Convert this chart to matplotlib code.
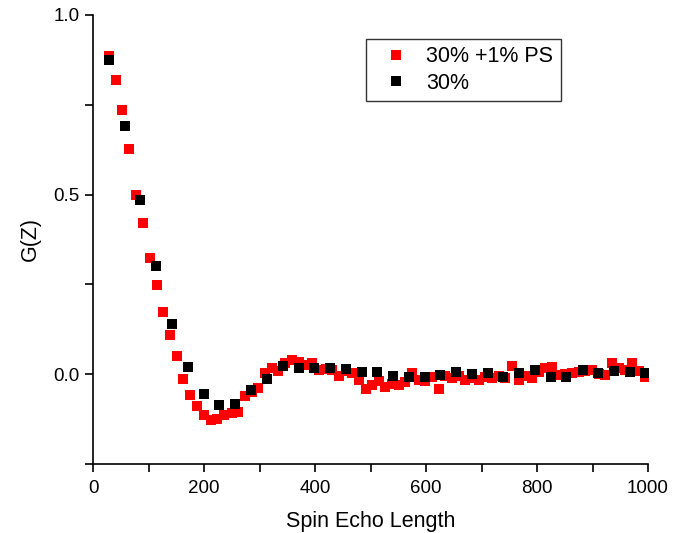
import matplotlib
matplotlib.use("Agg")
import matplotlib.pyplot as plt
from matplotlib.ticker import MultipleLocator

plt.rcParams['font.family'] = ['Liberation Sans', 'DejaVu Sans']

# 30% +1% PS sample
x_ps = [29, 41, 53, 65, 77, 89.5, 102, 114.7, 126.7, 138, 150.7, 163, 175,
        187.9, 200.6, 212.6, 224, 236.6, 249.8, 260.5, 274, 286, 297.8, 310,
        322, 334, 346, 359, 371.8, 383, 395, 407, 419, 431, 443, 455, 467,
        479, 491, 503, 515, 527, 539, 551, 563, 575, 587, 599, 611, 623, 635,
        647, 659, 671, 683, 695, 707, 719, 731, 743, 755, 767, 779, 791, 803,
        815, 827, 839, 851, 863, 875, 887, 899, 911, 923, 935, 947, 959, 971,
        983, 995]
g_ps = [0.886, 0.819, 0.735, 0.627, 0.500, 0.420, 0.324, 0.248, 0.174, 0.110,
        0.050, -0.013, -0.057, -0.089, -0.114, -0.128, -0.126, -0.114, -0.107,
        -0.105, -0.060, -0.050, -0.038, 0.004, 0.018, 0.009, 0.031, 0.039,
        0.035, 0.026, 0.031, 0.012, 0.015, 0.012, -0.005, 0.010, 0.002,
        -0.015, -0.040, -0.030, -0.020, -0.035, -0.028, -0.030, -0.022, 0.002,
        -0.017, -0.020, -0.008, -0.040, -0.005, -0.012, -0.005, -0.015, -0.010,
        -0.017, -0.008, -0.012, -0.005, -0.010, 0.023, -0.017, -0.005, -0.012,
        0.005, 0.016, 0.020, -0.003, 0.000, 0.004, 0.006, 0.010, 0.012, 0.000,
        -0.003, 0.030, 0.017, 0.012, 0.030, 0.010, -0.007]

# 30% sample
x_30 = [29, 58, 85, 113.5, 142, 170.6, 199.4, 227.6, 255.9, 284.7, 313.5,
        341.6, 370.6, 398, 427, 455, 484, 512, 541, 569, 597.6, 626, 654.6,
        683, 711, 739, 768, 796, 825, 853, 882, 910, 938, 968, 995]
g_30 = [0.875, 0.691, 0.484, 0.300, 0.140, 0.019, -0.055, -0.087, -0.084,
        -0.045, -0.014, 0.024, 0.018, 0.018, 0.016, 0.015, 0.006, 0.006,
        -0.004, -0.007, -0.008, -0.001, 0.006, 0.001, 0.002, -0.007, 0.002,
        0.011, -0.009, -0.007, 0.011, 0.002, 0.009, 0.006, 0.002]

fig = plt.figure(figsize=(6.75, 5.33), dpi=100)
ax = fig.add_axes([0.1378, 0.1295, 0.8222, 0.8424])

ax.plot(x_ps, g_ps, linestyle='none', marker='s', markersize=7.5,
        markeredgewidth=0, color='#ff0000', label='30% +1% PS')
ax.plot(x_30, g_30, linestyle='none', marker='s', markersize=7.5,
        markeredgewidth=0, color='black', label='30%')

ax.set_xlim(0, 1000)
ax.set_ylim(-0.25, 1.0)
ax.xaxis.set_major_locator(MultipleLocator(200))
ax.xaxis.set_minor_locator(MultipleLocator(100))
ax.yaxis.set_major_locator(MultipleLocator(0.5))
ax.yaxis.set_minor_locator(MultipleLocator(0.25))
ax.yaxis.set_major_formatter(plt.FormatStrFormatter('%.1f'))

for side in ['top', 'right']:
    ax.spines[side].set_visible(False)
for side in ['left', 'bottom']:
    ax.spines[side].set_linewidth(1.2)

ax.tick_params(which='both', direction='out', width=1.2, length=5.5,
               labelsize=13.5)
ax.tick_params(axis='x', pad=6)
ax.tick_params(axis='y', pad=4)

ax.set_xlabel('Spin Echo Length', fontsize=15.5, labelpad=10)
ax.set_ylabel('G(Z)', fontsize=15.5, labelpad=9)

leg = ax.legend(loc='upper right', bbox_to_anchor=(0.843, 0.947),
                fontsize=15.5, frameon=True, fancybox=False,
                handlelength=2.1, handletextpad=0.35, borderpad=0.35,
                labelspacing=0.25, borderaxespad=0)
leg.get_frame().set_edgecolor('black')
leg.get_frame().set_linewidth(1.0)

fig.savefig('out.png', dpi=100)
